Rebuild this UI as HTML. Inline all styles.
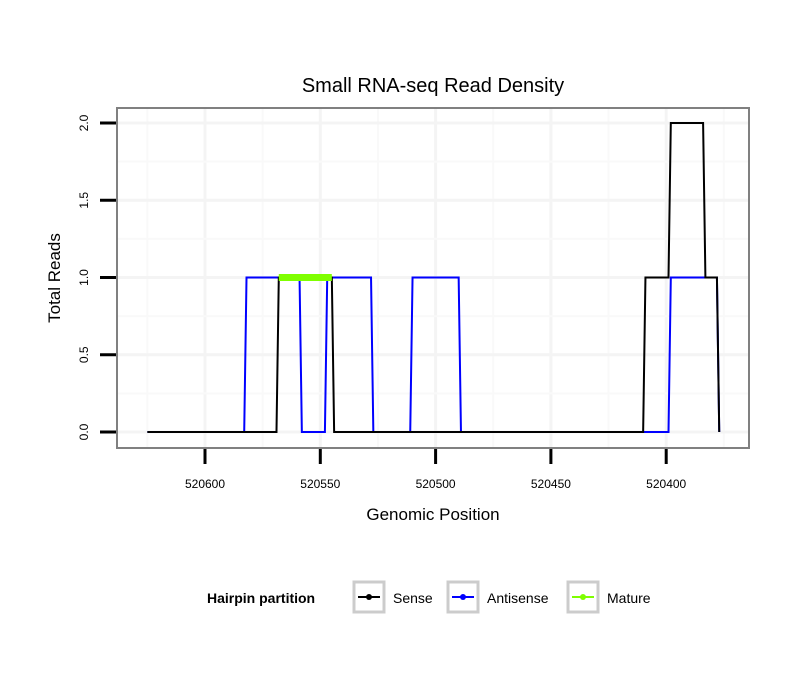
<!DOCTYPE html>
<html><head><meta charset="utf-8"><style>
body{margin:0;background:#fff}
svg text{font-family:"Liberation Sans",sans-serif}
</style></head><body>
<svg id="c" width="810" height="690" xmlns="http://www.w3.org/2000/svg"><defs><clipPath id="pc"><rect x="117" y="108" width="632" height="340"/></clipPath></defs></svg>
<script>
const xTicks=[520600,520550,520500,520450,520400];
const yTicks=[0,0.5,1,1.5,2];
const yTickLabels=["0.0","0.5","1.0","1.5","2.0"];
const senseX=[520625,520569,520568,520545,520544,520410,520409,520399,520398,520384,520383,520378,520377];
const senseY=[0,0,1,1,0,0,1,1,2,2,1,1,0];
const antiX=[520625,520583,520582,520559,520558,520548,520547,520528,520527,520511,520510,520490,520489,520399,520398,520378,520377];
const antiY=[0,0,1,1,0,0,1,1,0,0,1,1,0,0,1,1,0];
const matureX=[520568,520545];
const matureY=[1,1];
const NS="http://www.w3.org/2000/svg";
const svg=document.getElementById('c');
const L=117,R=749,T=108,B=448;
function sx(v){return 205+(520600-v)*2.306;}
function sy(v){return 432-v*154.5;}
function el(t,a,p){const e=document.createElementNS(NS,t);for(const k in a)e.setAttribute(k,a[k]);(p||svg).appendChild(e);return e;}
const g=el('g',{'clip-path':'url(#pc)'});


for(let i=0;i<xTicks.length;i++){
  el('line',{x1:sx(xTicks[i]),x2:sx(xTicks[i]),y1:T,y2:B,stroke:'#f4f4f4','stroke-width':3},g);
  el('line',{x1:sx(xTicks[i]-25),x2:sx(xTicks[i]-25),y1:T,y2:B,stroke:'#f9f9f9','stroke-width':2},g);
}
el('line',{x1:sx(520625),x2:sx(520625),y1:T,y2:B,stroke:'#f9f9f9','stroke-width':2},g);
for(let i=0;i<yTicks.length;i++){
  el('line',{x1:L,x2:R,y1:sy(yTicks[i]),y2:sy(yTicks[i]),stroke:'#f4f4f4','stroke-width':3},g);
  el('line',{x1:L,x2:R,y1:sy(yTicks[i]+0.25),y2:sy(yTicks[i]+0.25),stroke:'#f9f9f9','stroke-width':2},g);
}
function series(xs,ys,color,w,name){
  const p=el('polyline',{points:xs.map((x,i)=>sx(x)+','+sy(ys[i])).join(' '),fill:'none',stroke:color,'stroke-width':w,'stroke-linejoin':'miter'});
  
  
}
series(antiX,antiY,'#0000ff',2,'antisense-line');
series(senseX,senseY,'#000',2,'sense-line');
series(matureX,matureY,'#7fff00',7,'mature-line');
const fr=el('rect',{x:L,y:T,width:R-L,height:B-T,fill:'none',stroke:'#808080','stroke-width':2});


for(let i=0;i<xTicks.length;i++){
  el('line',{x1:sx(xTicks[i]),x2:sx(xTicks[i]),y1:449,y2:464,stroke:'#000','stroke-width':3});
  const t=el('text',{x:sx(xTicks[i]),y:488,'text-anchor':'middle','font-size':12});
  t.textContent=xTicks[i];
  
  
}
for(let i=0;i<yTicks.length;i++){
  el('line',{x1:100,x2:116,y1:sy(yTicks[i]),y2:sy(yTicks[i]),stroke:'#000','stroke-width':3});
  const t=el('text',{x:0,y:0,'text-anchor':'middle','font-size':12,transform:`translate(88,${sy(yTicks[i])}) rotate(-90)`});
  t.textContent=yTickLabels[i];
  
  
}
</script>
<svg style="position:absolute;left:0;top:0" width="810" height="690" xmlns="http://www.w3.org/2000/svg">
<text x="433" y="92" text-anchor="middle" font-size="20">Small RNA-seq Read Density</text>
<text x="433" y="520" text-anchor="middle" font-size="17">Genomic Position</text>
<text transform="translate(60,278) rotate(-90)" text-anchor="middle" font-size="17">Total Reads</text>
<g>
<text x="207" y="603" font-size="14" font-weight="bold">Hairpin partition</text>
<g>
<rect x="354" y="582" width="30" height="30" fill="#fff" stroke="#ccc" stroke-width="3"/>
<line x1="358" x2="380" y1="597" y2="597" stroke="#000" stroke-width="2"/><circle cx="369" cy="597" r="3" fill="#000"/>
<text x="393" y="603" font-size="14">Sense</text></g>
<g>
<rect x="448" y="582" width="30" height="30" fill="#fff" stroke="#ccc" stroke-width="3"/>
<line x1="452" x2="474" y1="597" y2="597" stroke="#00f" stroke-width="2"/><circle cx="463" cy="597" r="3" fill="#00f"/>
<text x="487" y="603" font-size="14">Antisense</text></g>
<g>
<rect x="568" y="582" width="30" height="30" fill="#fff" stroke="#ccc" stroke-width="3"/>
<line x1="572" x2="594" y1="597" y2="597" stroke="#7fff00" stroke-width="2"/><circle cx="583" cy="597" r="3" fill="#7fff00"/>
<text x="607" y="603" font-size="14">Mature</text></g>
</g>
</svg>
</body></html>
